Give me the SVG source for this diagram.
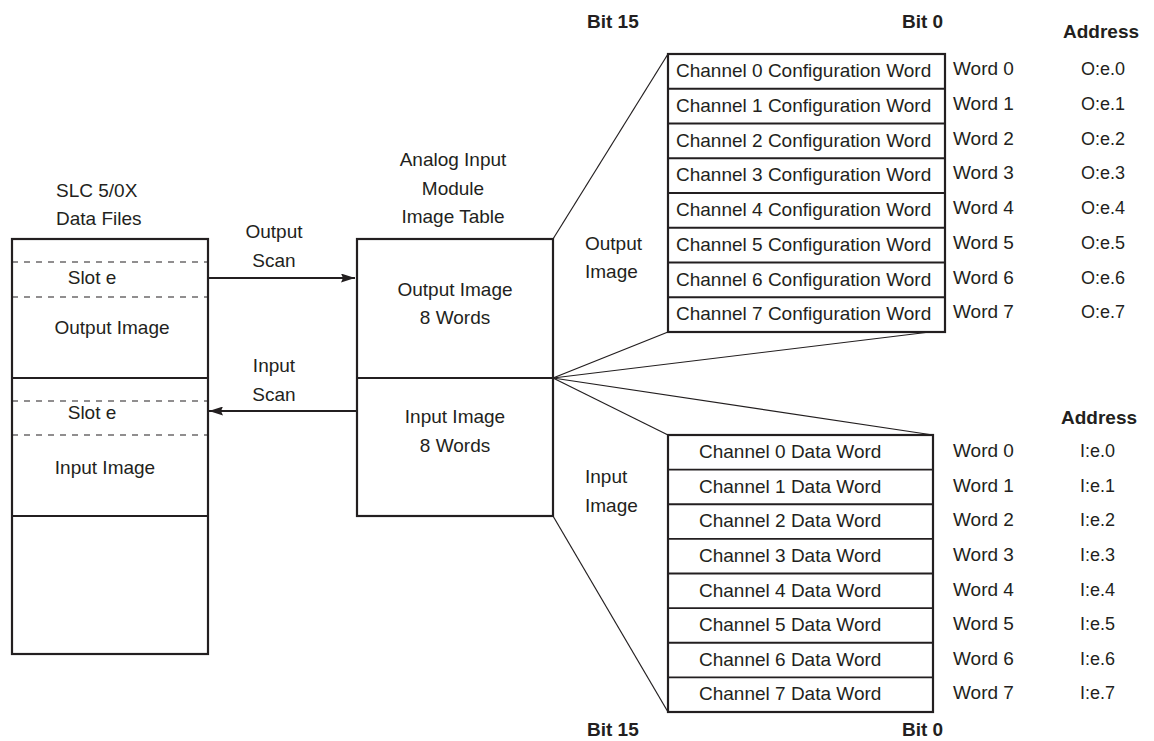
<svg xmlns="http://www.w3.org/2000/svg" width="1154" height="741" viewBox="0 0 1154 741">
<defs>
<style>
text{font-family:"Liberation Sans",Arial,sans-serif;font-size:19px;fill:#231f20}
.b{font-weight:bold}
.m{text-anchor:middle}
.a{font-size:18px}
.box{fill:none;stroke:#231f20;stroke-width:2.2}
.ln{stroke:#231f20;stroke-width:1.8;fill:none}
.dash{stroke:#231f20;stroke-width:1.2;stroke-dasharray:6 6;fill:none}
.diag{stroke:#231f20;stroke-width:1.2;fill:none}
.arr{stroke:#231f20;stroke-width:2;fill:none}
</style>
<marker id="ah" viewBox="0 0 14 9" refX="14" refY="4.5" markerWidth="14" markerHeight="9" markerUnits="userSpaceOnUse" orient="auto">
<path d="M0,0 L14,4.5 L0,9 L2,4.5 Z" fill="#231f20"/>
</marker>
</defs>
<rect width="1154" height="741" fill="#fff"/>

<g id="slc-data-files">
<text x="56" y="197">SLC 5/0X</text>
<text x="56" y="225">Data Files</text>
<rect class="box" x="12" y="239" width="196" height="415"/>
<line class="dash" x1="12" y1="262" x2="208" y2="262"/>
<line class="dash" x1="12" y1="297" x2="208" y2="297"/>
<text class="m" x="92" y="284">Slot e</text>
<text class="m" x="112" y="334">Output Image</text>
<line class="ln" x1="12" y1="378" x2="208" y2="378"/>
<line class="dash" x1="12" y1="401" x2="208" y2="401"/>
<line class="dash" x1="12" y1="435" x2="208" y2="435"/>
<text class="m" x="92" y="419">Slot e</text>
<text class="m" x="105" y="474">Input Image</text>
<line class="ln" x1="12" y1="516" x2="208" y2="516"/>
</g>

<g id="module-image-table">
<text class="m" x="453" y="166">Analog Input</text>
<text class="m" x="453" y="195">Module</text>
<text class="m" x="453" y="223">Image Table</text>
<rect class="box" x="357" y="239" width="196" height="277"/>
<line class="ln" x1="357" y1="378" x2="553" y2="378"/>
<text class="m" x="455" y="296">Output Image</text>
<text class="m" x="455" y="324">8 Words</text>
<text class="m" x="455" y="423">Input Image</text>
<text class="m" x="455" y="452">8 Words</text>
</g>

<g id="scan-labels">
<text class="m" x="274" y="238">Output</text>
<text class="m" x="274" y="267">Scan</text>
<text class="m" x="274" y="372">Input</text>
<text class="m" x="274" y="401">Scan</text>
<text x="585" y="250">Output</text>
<text x="585" y="278">Image</text>
<text x="585" y="483">Input</text>
<text x="585" y="512">Image</text>
</g>

<g id="connectors">
<line class="arr" x1="208" y1="278" x2="355" y2="278" marker-end="url(#ah)"/>
<line class="arr" x1="357" y1="411" x2="209" y2="411" marker-end="url(#ah)"/>
<line class="diag" x1="553" y1="239" x2="668" y2="54"/>
<line class="diag" x1="553" y1="378" x2="668" y2="332"/>
<line class="diag" x1="553" y1="378" x2="930" y2="332"/>
<line class="diag" x1="553" y1="378" x2="933" y2="435"/>
<line class="diag" x1="553" y1="378" x2="668" y2="435"/>
<line class="diag" x1="553" y1="516" x2="668" y2="712"/>
</g>

<g id="output-words">
<text class="b" x="587" y="28">Bit 15</text>
<text class="b" x="902" y="28">Bit 0</text>
<text class="b" x="1063" y="38">Address</text>
<rect class="box" x="668" y="54" width="277" height="278"/>
<line class="ln" x1="668" y1="88.75" x2="945" y2="88.75"/>
<line class="ln" x1="668" y1="123.5" x2="945" y2="123.5"/>
<line class="ln" x1="668" y1="158.25" x2="945" y2="158.25"/>
<line class="ln" x1="668" y1="193" x2="945" y2="193"/>
<line class="ln" x1="668" y1="227.75" x2="945" y2="227.75"/>
<line class="ln" x1="668" y1="262.5" x2="945" y2="262.5"/>
<line class="ln" x1="668" y1="297.25" x2="945" y2="297.25"/>
<text x="676" y="77">Channel 0 Configuration Word</text>
<text x="676" y="111.75">Channel 1 Configuration Word</text>
<text x="676" y="146.5">Channel 2 Configuration Word</text>
<text x="676" y="181.25">Channel 3 Configuration Word</text>
<text x="676" y="216">Channel 4 Configuration Word</text>
<text x="676" y="250.75">Channel 5 Configuration Word</text>
<text x="676" y="285.5">Channel 6 Configuration Word</text>
<text x="676" y="320.25">Channel 7 Configuration Word</text>
<text x="953" y="75">Word 0</text>
<text x="953" y="109.75">Word 1</text>
<text x="953" y="144.5">Word 2</text>
<text x="953" y="179.25">Word 3</text>
<text x="953" y="214">Word 4</text>
<text x="953" y="248.75">Word 5</text>
<text x="953" y="283.5">Word 6</text>
<text x="953" y="318.25">Word 7</text>
<text class="a" x="1081" y="75">O:e.0</text>
<text class="a" x="1081" y="109.75">O:e.1</text>
<text class="a" x="1081" y="144.5">O:e.2</text>
<text class="a" x="1081" y="179.25">O:e.3</text>
<text class="a" x="1081" y="214">O:e.4</text>
<text class="a" x="1081" y="248.75">O:e.5</text>
<text class="a" x="1081" y="283.5">O:e.6</text>
<text class="a" x="1081" y="318.25">O:e.7</text>
</g>

<g id="input-words">
<text class="b" x="1061" y="424">Address</text>
<rect class="box" x="668" y="435" width="265" height="277"/>
<line class="ln" x1="668" y1="469.6" x2="933" y2="469.6"/>
<line class="ln" x1="668" y1="504.25" x2="933" y2="504.25"/>
<line class="ln" x1="668" y1="538.9" x2="933" y2="538.9"/>
<line class="ln" x1="668" y1="573.5" x2="933" y2="573.5"/>
<line class="ln" x1="668" y1="608.1" x2="933" y2="608.1"/>
<line class="ln" x1="668" y1="642.75" x2="933" y2="642.75"/>
<line class="ln" x1="668" y1="677.4" x2="933" y2="677.4"/>
<text x="699" y="458">Channel 0 Data Word</text>
<text x="699" y="492.6">Channel 1 Data Word</text>
<text x="699" y="527.25">Channel 2 Data Word</text>
<text x="699" y="561.9">Channel 3 Data Word</text>
<text x="699" y="596.5">Channel 4 Data Word</text>
<text x="699" y="631.1">Channel 5 Data Word</text>
<text x="699" y="665.75">Channel 6 Data Word</text>
<text x="699" y="700.4">Channel 7 Data Word</text>
<text x="953" y="457">Word 0</text>
<text x="953" y="491.6">Word 1</text>
<text x="953" y="526.25">Word 2</text>
<text x="953" y="560.9">Word 3</text>
<text x="953" y="595.5">Word 4</text>
<text x="953" y="630.1">Word 5</text>
<text x="953" y="664.75">Word 6</text>
<text x="953" y="699.4">Word 7</text>
<text class="a" x="1080" y="457">I:e.0</text>
<text class="a" x="1080" y="491.6">I:e.1</text>
<text class="a" x="1080" y="526.25">I:e.2</text>
<text class="a" x="1080" y="560.9">I:e.3</text>
<text class="a" x="1080" y="595.5">I:e.4</text>
<text class="a" x="1080" y="630.1">I:e.5</text>
<text class="a" x="1080" y="664.75">I:e.6</text>
<text class="a" x="1080" y="699.4">I:e.7</text>
<text class="b" x="587" y="736">Bit 15</text>
<text class="b" x="902" y="736">Bit 0</text>
</g>
</svg>
